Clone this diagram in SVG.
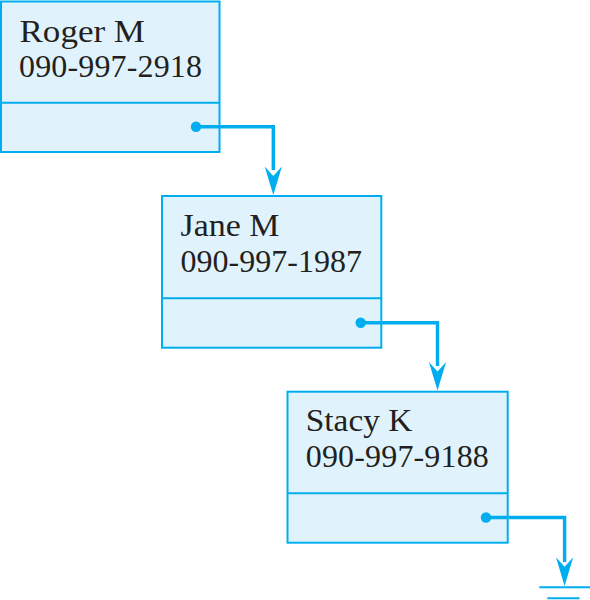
<svg xmlns="http://www.w3.org/2000/svg" width="590" height="600" viewBox="0 0 590 600">
<defs>
<style>
.box{fill:#e0f3fc;stroke:#00aeef;stroke-width:2}
.div{stroke:#00aeef;stroke-width:2}
.txt{font-family:"Liberation Serif","Times New Roman",serif;font-size:32px;fill:#231f20}
.wire{fill:none;stroke:#00aeef;stroke-width:3.4}
.dot{fill:#00aeef}
.head{fill:#00aeef}
.gnd{stroke:#00aeef;stroke-width:2}
</style>
</defs>
<rect width="590" height="600" fill="#ffffff"/>
<g id="node-roger">
<rect class="box" x="1" y="1.5" width="218.5" height="150.5"/>
<line class="div" x1="1" y1="102.7" x2="219.5" y2="102.7"/>
<text class="txt" x="19.5" y="41.7" textLength="125.5" lengthAdjust="spacingAndGlyphs">Roger M</text>
<text class="txt" x="19" y="77.3" textLength="183" lengthAdjust="spacing">090-997-2918</text>
</g>
<g id="node-jane">
<rect class="box" x="162" y="196" width="219.3" height="151.7"/>
<line class="div" x1="162" y1="298.3" x2="381.3" y2="298.3"/>
<text class="txt" x="180.5" y="235.7" textLength="99" lengthAdjust="spacingAndGlyphs">Jane M</text>
<text class="txt" x="180.5" y="272.3" textLength="181.5" lengthAdjust="spacing">090-997-1987</text>
</g>
<g id="node-stacy">
<rect class="box" x="287.5" y="391.7" width="220.2" height="151"/>
<line class="div" x1="287.5" y1="493.3" x2="507.7" y2="493.3"/>
<text class="txt" x="305.8" y="431" textLength="106.5" lengthAdjust="spacingAndGlyphs">Stacy K</text>
<text class="txt" x="305.8" y="467.3" textLength="183" lengthAdjust="spacing">090-997-9188</text>
</g>
<g id="connectors">
<circle class="dot" cx="196" cy="126.8" r="5.2"/>
<polyline class="wire" points="196,126.8 273.3,126.8 273.3,170"/>
<polygon class="head" points="264.7,166.5 273.3,176 281.9,166.5 273.3,195"/>
<circle class="dot" cx="360.7" cy="322.7" r="5.2"/>
<polyline class="wire" points="360.7,322.7 437.5,322.7 437.5,366"/>
<polygon class="head" points="428.9,362 437.5,371.5 446.1,362 437.5,390.5"/>
<circle class="dot" cx="486" cy="517.5" r="5.2"/>
<polyline class="wire" points="486,517.5 564.6,517.5 564.6,562"/>
<polygon class="head" points="556,557.3 564.6,566.7 573.2,557.3 564.6,586"/>
</g>
<g id="ground">
<line class="gnd" x1="539.3" y1="587.3" x2="590" y2="587.3"/>
<line class="gnd" x1="547.3" y1="598.3" x2="579.5" y2="598.3"/>
</g>
</svg>
